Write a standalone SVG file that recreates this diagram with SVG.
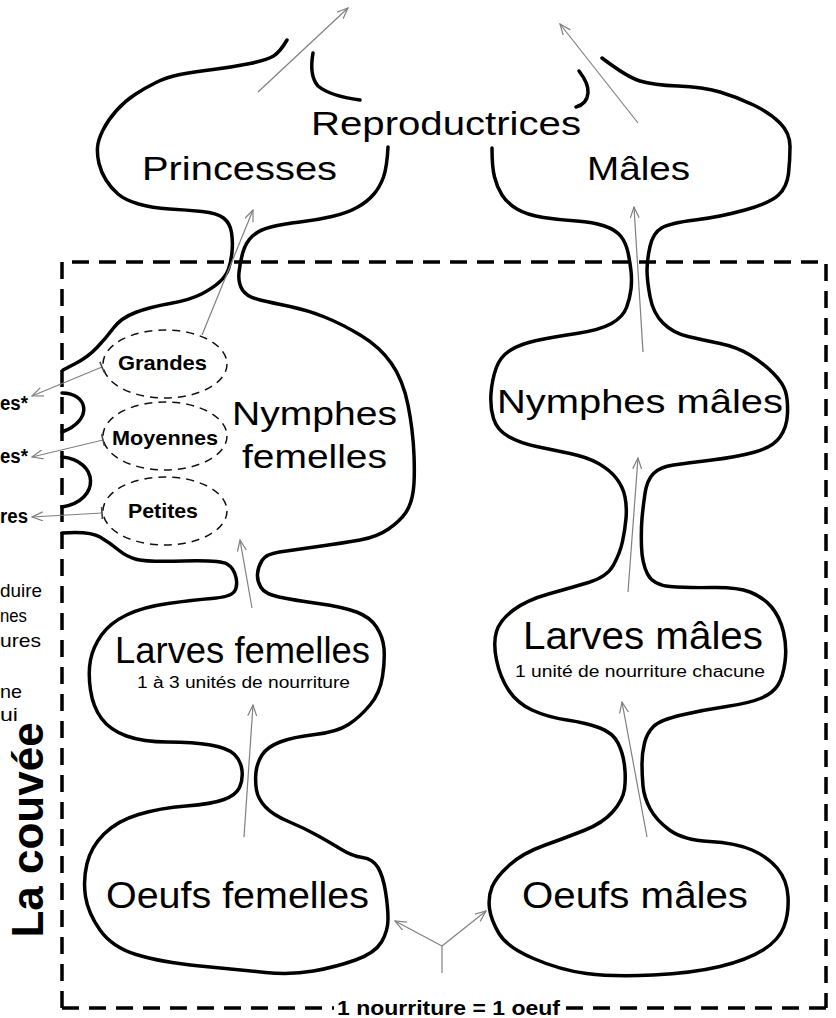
<svg xmlns="http://www.w3.org/2000/svg" width="836" height="1018" viewBox="0 0 836 1018">
<style>
.ol{fill:none;stroke:#000;stroke-width:3.5;stroke-linecap:round;stroke-linejoin:round}
.big{font-family:"Liberation Sans",Arial,sans-serif;fill:#000}
.sm{font-family:"Liberation Sans",Arial,sans-serif;fill:#000}
.b{font-family:"Liberation Sans",Arial,sans-serif;font-weight:bold;fill:#000}
.el{fill:none;stroke:#111;stroke-width:1.5;stroke-dasharray:8 6}
.ar{fill:none;stroke:#808080;stroke-width:1.2}
.box{fill:none;stroke:#000;stroke-width:3.5;stroke-dasharray:17 10}
</style>
<defs>
<marker id="ah" viewBox="0 0 12 10" refX="11" refY="5" markerWidth="12" markerHeight="10" orient="auto" markerUnits="userSpaceOnUse"><path d="M0,0.5 L11,5 L0,9.5" fill="none" stroke="#808080" stroke-width="1.2"/></marker>
<marker id="tick" viewBox="0 0 4 12" refX="2" refY="6" markerWidth="4" markerHeight="12" orient="auto" markerUnits="userSpaceOnUse"><line x1="2" y1="0" x2="2" y2="12" stroke="#444" stroke-width="1.6"/></marker>
</defs>
<rect width="836" height="1018" fill="#fff"/>

<g id="couvee-box">
<path class="box" d="M62,1008 L62,262 L826,262 L826,1008"/>
<path class="box" d="M62,1008 L334,1008"/>
<path class="box" d="M826,1008 L563,1008"/>
<text class="b" x="337" y="1015" font-size="20" textLength="223" lengthAdjust="spacingAndGlyphs">1 nourriture = 1 oeuf</text>
<text class="b" font-size="44" text-anchor="middle" transform="translate(43,830) rotate(-90)">La couvée</text>
</g>

<g id="outlines">
<path class="ol" d="M287,40 Q280,52 273.5,56 Q267,60 250,63.5 Q233,67 213,69.5 Q193,72 180,74.5 Q167,77 156,82.5 Q145,88 135,94.5 Q125,101 116.5,110.5 Q108,120 103,130 Q98,140 97.5,147.5 Q97,155 99,163.5 Q101,172 106,180 Q111,188 118,194 Q125,200 138.5,204 Q152,208 169.5,209 Q187,210 202,211.5 Q217,213 223.5,218 Q230,223 231.5,232.5 Q233,242 232,252 Q231,262 228.5,269 Q226,276 219.5,282 Q213,288 201.5,294 Q190,300 170,303.5 Q150,307 135.5,312.5 Q121,318 113.5,328 Q106,338 97,347.5 Q88,357 75.5,363.5 L63,370"/>
<path class="ol" d="M388,147 Q387,167 383.5,177 Q380,187 373.5,194.5 Q367,202 357,207.5 Q347,213 332,216.5 Q317,220 300,222 Q283,224 271,227 Q259,230 252.5,236 Q246,242 243,252 Q240,262 239,272.5 Q238,283 242.5,290 Q247,297 260,300 Q273,303 290,306.5 Q307,310 324.5,317 Q342,324 361,335.5 Q380,347 391.5,363.5 Q403,380 408,405 Q413,430 414,455 Q415,480 413,492.5 Q411,505 405.5,513 Q400,521 388.5,529 Q377,537 360,540 Q343,543 318,546.5 Q293,550 279.5,552 Q266,554 262,560.5 Q258,567 257.5,574 Q257,581 261,587.5 Q265,594 279,597 Q293,600 318,603.5 Q343,607 356.5,612 Q370,617 376.5,627 Q383,637 384,648.5 Q385,660 382.5,676.5 Q380,693 370,705 Q360,717 348.5,724.5 Q337,732 315,734.5 Q293,737 280,742 Q267,747 262,755 Q257,763 256,772 Q255,781 256.5,790 Q258,799 265.5,807 Q273,815 288.5,821.5 Q304,828 317.5,835.5 Q331,843 341.5,849.5 Q352,856 362.5,857.5 Q373,859 378,867.5 Q383,876 385.5,891.5 Q388,907 388,919 Q388,931 381.5,942 Q375,953 355.5,960 Q336,967 313.5,971 Q291,975 265.5,972.5 Q240,970 200,966 Q160,962 136,954.5 Q112,947 100,930 Q88,913 85.5,896.5 Q83,880 87,863.5 Q91,847 104,834 Q117,821 138.5,814.5 Q160,808 186,806 Q212,804 224,799.5 Q236,795 239.5,787.5 Q243,780 242,770.5 Q241,761 234.5,754.5 Q228,748 210.5,745 Q193,742 168,742 Q143,742 126.5,736 Q110,730 101.5,718.5 Q93,707 90.5,690 Q88,673 90.5,660 Q93,647 101.5,635 Q110,623 126.5,615 Q143,607 168,603.5 Q193,600 211.5,598.5 Q230,597 234,592 Q238,587 236,577.5 Q234,568 227,564 Q220,560 183.5,561 Q147,562 137,559.5 Q127,557 118.5,550 Q110,543 100,537 Q90,531 62,533"/>
<path class="ol" d="M492,148 Q492,167 494.5,177 Q497,187 502,195 Q507,203 517,209 Q527,215 543.5,217.5 Q560,220 576.5,221 Q593,222 604.5,226 Q616,230 621,236.5 Q626,243 628,252.5 Q630,262 631,271 Q632,280 631,289 Q630,298 626.5,307.5 Q623,317 611.5,323.5 Q600,330 576.5,333.5 Q553,337 536.5,340.5 Q520,344 510,350.5 Q500,357 496,368.5 Q492,380 491,393.5 Q490,407 493.5,418.5 Q497,430 508.5,436.5 Q520,443 536.5,446.5 Q553,450 570,453.5 Q587,457 598.5,463.5 Q610,470 616.5,478.5 Q623,487 625,497 Q627,507 626,518.5 Q625,530 622.5,541.5 Q620,553 613.5,565 Q607,577 588.5,582.5 Q570,588 548.5,594 Q527,600 513.5,610 Q500,620 496.5,631.5 Q493,643 496.5,660 Q500,677 508.5,690 Q517,703 532,710 Q547,717 567,720 Q587,723 600,728 Q613,733 618,743 Q623,753 624.5,765.5 Q626,778 624.5,789 Q623,800 613,811.5 Q603,823 584,830.5 Q565,838 544,845.5 Q523,853 509.5,865 Q496,877 492,887 Q488,897 489.5,908.5 Q491,920 499,933.5 Q507,947 533.5,958.5 Q560,970 586.5,973.5 Q613,977 653,975 Q693,973 720,966.5 Q747,960 763,950 Q779,940 784,926.5 Q789,913 788,896.5 Q787,880 777.5,868.5 Q768,857 752,850 Q736,843 709.5,841.5 Q683,840 669.5,830 Q656,820 650,808.5 Q644,797 643,786 Q642,775 642,764 Q642,753 644.5,743 Q647,733 653.5,726.5 Q660,720 681.5,715 Q703,710 726.5,706.5 Q750,703 761.5,698 Q773,693 778,685 Q783,677 785,662 Q787,647 783.5,632 Q780,617 771.5,607 Q763,597 750,592 Q737,587 712,587.5 Q687,588 670,586.5 Q653,585 647.5,574 Q642,563 641.5,546.5 Q641,530 642,518.5 Q643,507 645,493.5 Q647,480 653.5,473.5 Q660,467 673.5,465 Q687,463 712,460 Q737,457 755,452 Q773,447 780,437 Q787,427 787.5,413.5 Q788,400 785.5,391.5 Q783,383 773,373 Q763,363 750,355 Q737,347 720,343.5 Q703,340 688,336.5 Q673,333 663,323 Q653,313 650,296.5 Q647,280 647,270 Q647,260 650,246.5 Q653,233 661.5,228 Q670,223 695,220 Q720,217 745,210 Q770,203 778.5,195 Q787,187 788.5,173.5 Q790,160 790,146.5 Q790,133 780,123 Q770,113 753.5,105 Q737,97 720,92 Q703,87 678,86 Q653,85 640,81 Q627,77 602,58"/>
<path class="ol" d="M313,53 Q309,76 318,86 Q330,96 360,100"/>
<path class="ol" d="M579,71 Q589,84 588,93 Q587,104 576,107"/>
<path class="ol" d="M62,393 C88,393 94,420 62,432"/>
<path class="ol" d="M62,457 C98,460 102,500 62,507"/>
</g>

<g id="reproductrices"><text class="big" x="311" y="135" font-size="33" textLength="270" lengthAdjust="spacingAndGlyphs">Reproductrices</text></g>
<g id="princesses"><text class="big" x="142" y="180" font-size="33" textLength="195" lengthAdjust="spacingAndGlyphs">Princesses</text></g>
<g id="males"><text class="big" x="587" y="180" font-size="33" textLength="103" lengthAdjust="spacingAndGlyphs">Mâles</text></g>
<g id="nymphes-femelles">
<text class="big" x="232" y="425" font-size="33" textLength="165" lengthAdjust="spacingAndGlyphs">Nymphes</text>
<text class="big" x="242" y="468" font-size="33" textLength="145" lengthAdjust="spacingAndGlyphs">femelles</text>
</g>
<g id="nymphes-males"><text class="big" x="497" y="413" font-size="33" textLength="286" lengthAdjust="spacingAndGlyphs">Nymphes mâles</text></g>
<g id="larves-femelles">
<text class="big" x="115" y="663" font-size="37" textLength="255" lengthAdjust="spacingAndGlyphs">Larves femelles</text>
<text class="sm" x="137" y="688" font-size="16" textLength="213" lengthAdjust="spacingAndGlyphs">1 à 3 unités de nourriture</text>
</g>
<g id="larves-males">
<text class="big" x="523" y="649" font-size="38" textLength="240" lengthAdjust="spacingAndGlyphs">Larves mâles</text>
<text class="sm" x="515" y="677" font-size="16" textLength="250" lengthAdjust="spacingAndGlyphs">1 unité de nourriture chacune</text>
</g>
<g id="oeufs-femelles"><text class="big" x="106" y="908" font-size="36" textLength="263" lengthAdjust="spacingAndGlyphs">Oeufs femelles</text></g>
<g id="oeufs-males"><text class="big" x="522" y="908" font-size="36" textLength="226" lengthAdjust="spacingAndGlyphs">Oeufs mâles</text></g>

<g id="grandes"><ellipse class="el" cx="165" cy="364" rx="62" ry="34"/><text class="b" x="118" y="370" font-size="21" textLength="89" lengthAdjust="spacingAndGlyphs">Grandes</text></g>
<g id="moyennes"><ellipse class="el" cx="165" cy="436" rx="62" ry="34"/><text class="b" x="112" y="445" font-size="21" textLength="106" lengthAdjust="spacingAndGlyphs">Moyennes</text></g>
<g id="petites"><ellipse class="el" cx="165" cy="511" rx="62" ry="34"/><text class="b" x="128" y="518" font-size="21" textLength="70" lengthAdjust="spacingAndGlyphs">Petites</text></g>

<g id="left-notes">
<text class="b" x="0" y="410" font-size="20" textLength="28" lengthAdjust="spacingAndGlyphs">es*</text>
<text class="b" x="0" y="463" font-size="20" textLength="28" lengthAdjust="spacingAndGlyphs">es*</text>
<text class="b" x="0" y="523" font-size="20" textLength="28" lengthAdjust="spacingAndGlyphs">res</text>
<text class="sm" x="0" y="597" font-size="19" textLength="42" lengthAdjust="spacingAndGlyphs">duire</text>
<text class="sm" x="0" y="622" font-size="19" textLength="27" lengthAdjust="spacingAndGlyphs">nes</text>
<text class="sm" x="0" y="647" font-size="19" textLength="41" lengthAdjust="spacingAndGlyphs">ures</text>
<text class="sm" x="0" y="698" font-size="19" textLength="22" lengthAdjust="spacingAndGlyphs">ne</text>
<text class="sm" x="0" y="721" font-size="19" textLength="18" lengthAdjust="spacingAndGlyphs">ui</text>
</g>

<g id="connectors">
<line class="ar" x1="258" y1="92" x2="348" y2="8" marker-end="url(#ah)"/>
<line class="ar" x1="638" y1="123" x2="560" y2="24" marker-end="url(#ah)"/>
<line class="ar" x1="202" y1="335" x2="253" y2="210" marker-end="url(#ah)"/>
<line class="ar" x1="643" y1="352" x2="634" y2="207" marker-end="url(#ah)"/>
<line class="ar" x1="252" y1="608" x2="240" y2="540" marker-end="url(#ah)"/>
<line class="ar" x1="628" y1="592" x2="638" y2="458" marker-end="url(#ah)"/>
<line class="ar" x1="244" y1="837" x2="253" y2="705" marker-end="url(#ah)"/>
<line class="ar" x1="647" y1="837" x2="622" y2="702" marker-end="url(#ah)"/>
<line class="ar" x1="442" y1="973" x2="442" y2="946"/>
<line class="ar" x1="442" y1="946" x2="395" y2="921" marker-end="url(#ah)"/>
<line class="ar" x1="442" y1="946" x2="486" y2="911" marker-end="url(#ah)"/>
<line class="ar" x1="102" y1="367" x2="32" y2="396" marker-start="url(#tick)" marker-end="url(#ah)"/>
<line class="ar" x1="103" y1="440" x2="32" y2="457" marker-start="url(#tick)" marker-end="url(#ah)"/>
<line class="ar" x1="102" y1="513" x2="32" y2="517" marker-start="url(#tick)" marker-end="url(#ah)"/>
</g>
</svg>
